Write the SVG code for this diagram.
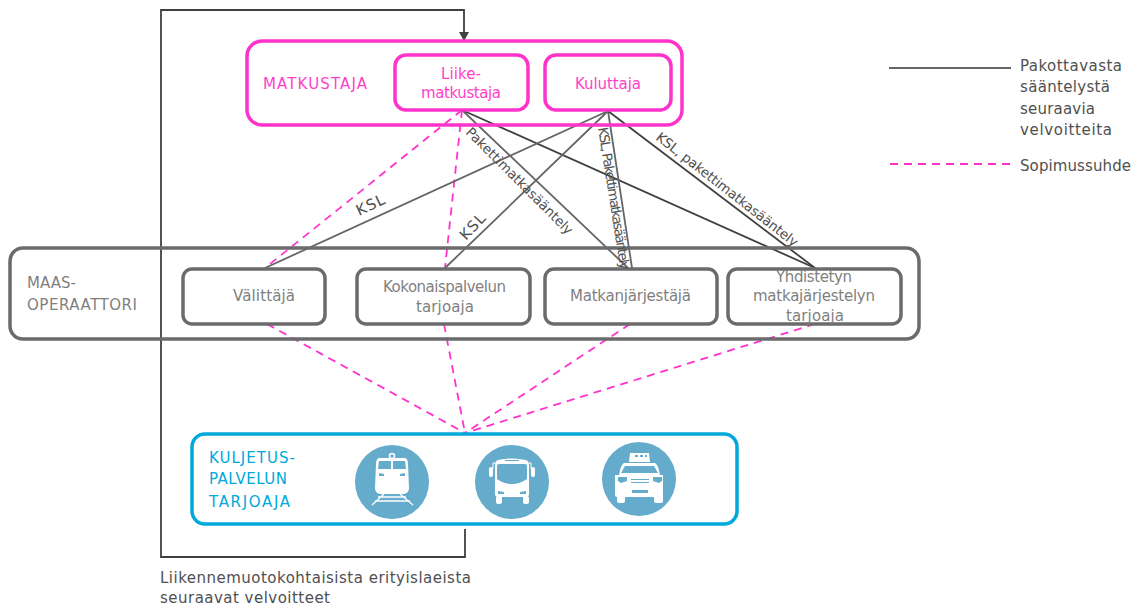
<svg xmlns="http://www.w3.org/2000/svg" width="1139" height="606" viewBox="0 0 1139 606">
<style>
text{font-family:"DejaVu Sans","Open Sans",sans-serif;font-size:15px}
.m{text-anchor:middle}
.pk{fill:#ff3fc8}.gy{fill:#7f7f7f}.dk{fill:#505050}.bl{fill:#00a9dc}
.box{fill:none}
.pb{stroke:#ff33cc}.gb{stroke:#6b6b6b}
.d{stroke:#ff33cc;stroke-width:1.8;stroke-dasharray:8 6;fill:none}
.s{stroke:#666;stroke-width:1.8;fill:none}
.k{stroke:#404040;stroke-width:1.8;fill:none}
.ic{fill:#65abcb}.w{fill:#fff}
</style>
<g id="connectors">
<path class="k" d="M465,529V557H161V10H464V33"/>
<path d="M459,32H469L464,41Z" fill="#404040"/>
<path class="d" d="M462,110L265,268M462,110L445,268"/>
<path class="d" d="M267,324L465,433M444,324L465,433M630,324L465,433M815,324L465,433"/>
<path class="s" d="M462,110L628,268"/>
<path class="k" d="M462,110L815,268"/>
<path class="s" d="M608,111L265,268M608,111L445,268M608,111L632,268"/>
<path class="k" d="M608,111L815,268"/>
<path class="d" d="M890,164H1011"/>
<path class="s" d="M889,68H1011"/>
</g>
<g id="matkustaja">
<rect class="box pb" x="247" y="41" width="435" height="84" rx="15" stroke-width="3.5"/>
<text class="pk" x="263" y="89" textLength="104">MATKUSTAJA</text>
</g>
<g id="liikematkustaja">
<rect class="box pb" x="395" y="55" width="133" height="55" rx="11" stroke-width="3.5"/>
<text class="pk" x="441" y="79" textLength="40">Liike-</text><text class="pk" x="421" y="98" textLength="80">matkustaja</text>
</g>
<g id="kuluttaja">
<rect class="box pb" x="545" y="55" width="126" height="55" rx="11" stroke-width="3.5"/>
<text class="pk" x="575" y="89" textLength="66">Kuluttaja</text>
</g>
<g id="maas">
<rect class="box gb" x="10" y="248" width="909" height="91" rx="13" stroke-width="3.5"/>
<text class="gy" x="27" y="288" textLength="49">MAAS-</text><text class="gy" x="27" y="310" textLength="110">OPERAATTORI</text>
</g>
<g id="valittaja"><rect class="box gb" x="183" y="269" width="142" height="55" rx="9" stroke-width="3.5"/><text class="gy" x="233" y="301" textLength="62">Välittäjä</text></g>
<g id="kokonais"><rect class="box gb" x="357" y="269" width="173" height="55" rx="9" stroke-width="3.5"/><text class="gy" x="383" y="292" textLength="123">Kokonaispalvelun</text><text class="gy" x="416" y="312" textLength="58">tarjoaja</text></g>
<g id="matkanjarjestaja"><rect class="box gb" x="545" y="269" width="172" height="55" rx="9" stroke-width="3.5"/><text class="gy" x="570" y="301" textLength="121">Matkanjärjestäjä</text></g>
<g id="yhdistetyn"><rect class="box gb" x="728" y="269" width="173" height="55" rx="9" stroke-width="3.5"/><text class="gy" x="776" y="282" textLength="76">Yhdistetyn</text><text class="gy" x="753" y="301" textLength="122">matkajärjestelyn</text><text class="gy" x="786" y="321" textLength="58">tarjoaja</text></g>
<g id="kuljetus">
<rect x="192" y="434" width="545" height="90" rx="13" fill="none" stroke="#00a9dc" stroke-width="3.5"/>
<text class="bl" x="209" y="463" textLength="86">KULJETUS-</text><text class="bl" x="209" y="484" textLength="78">PALVELUN</text><text class="bl" x="209" y="507" textLength="81">TARJOAJA</text>
<circle class="ic" cx="392" cy="482" r="37"/>
<circle cx="392" cy="456" r="2.5" fill="none" stroke="#fff" stroke-width="1.5"/>
<path class="w" d="M379,458H405Q408,459 408,464L409,488Q409,493 404,494H380Q375,493 375,488L376,464Q376,459 379,458Z"/>
<path d="M384,494L372,505M400,494L413,505M378,497H406M375,501H410" stroke="#fff" stroke-width="1.4" fill="none"/>
<path class="ic" d="M379,461H391V469H378ZM393,461H405L406,469H393ZM379,473L384,474V476H379ZM405,473L400,474V476H405Z"/>
<circle class="ic" cx="512" cy="482" r="37"/>
<path class="w" d="M498,460Q512,457 526,460Q529,461 529,466V494Q529,497 526,497H498Q495,497 495,494V466Q495,461 498,460Z"/>
<rect class="w" x="489" y="467" width="4" height="10" rx="2"/><rect class="w" x="531" y="467" width="4" height="10" rx="2"/>
<path d="M493,469V463H496M531,469V463H528" stroke="#fff" fill="none"/>
<rect class="w" x="496" y="496" width="6" height="8" rx="2"/><rect class="w" x="523" y="496" width="6" height="8" rx="2"/>
<path class="ic" d="M499,464H525Q527,464 527,466V479Q520,484 512,484Q504,484 497,479V466Q497,464 499,464ZM498,491L504,492V494H498ZM526,491L520,492V494H526ZM505,460H519V461H505Z"/>
<circle class="ic" cx="639" cy="479" r="37"/>
<path class="w" d="M630,453H649L650,462H629ZM624,463H655Q658,464 660,475H663V495Q663,497 660,497H618Q615,497 615,495V475H619Q621,464 624,463Z"/>
<rect class="w" x="617" y="495" width="8" height="8" rx="2"/><rect class="w" x="654" y="495" width="9" height="8" rx="2"/>
<path class="ic" d="M635,455H638V457H635ZM640,455H643V457H640ZM645,455H647V457H645ZM625,466H654L658,473H621ZM618,477H627V481L621,483L618,481ZM662,477H653V481L659,483L662,481ZM632,490H648V493H632ZM631,479H649V480H631ZM631,482H649V483H631Z"/>
</g>
<g id="labels">
<text class="dk" transform="translate(359,216) rotate(-25)" textLength="30">KSL</text>
<text class="dk" transform="translate(466,241) rotate(-47)" textLength="30">KSL</text>
<text class="dk" style="font-size:13.5px" transform="translate(465,133) rotate(45)" textLength="145">Pakettimatkasääntely</text>
<text class="dk" style="font-size:13.5px" transform="translate(598,128) rotate(81)" textLength="144">KSL, Pakettimatkasääntely</text>
<text class="dk" style="font-size:13.5px" transform="translate(655,139) rotate(38)" textLength="176">KSL, pakettimatkasääntely</text>
<text class="dk" x="1020" y="71" textLength="102">Pakottavasta</text><text class="dk" x="1020" y="92" textLength="90">sääntelystä</text><text class="dk" x="1020" y="114" textLength="75">seuraavia</text><text class="dk" x="1020" y="135" textLength="92">velvoitteita</text>
<text class="dk" x="1020" y="171" textLength="111">Sopimussuhde</text>
<text class="dk" x="160" y="583" textLength="311">Liikennemuotokohtaisista erityislaeista</text>
<text class="dk" x="160" y="603" textLength="170">seuraavat velvoitteet</text>
</g>
</svg>
